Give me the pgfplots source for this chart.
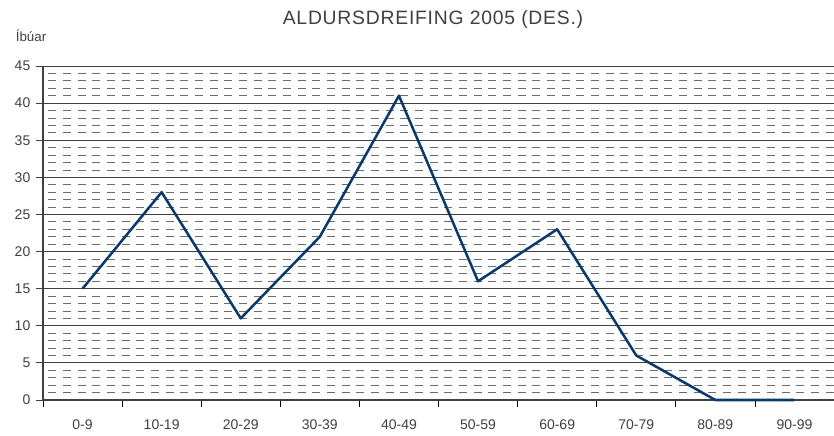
\documentclass[border=0pt]{standalone}
\usepackage{pgfplots}
\pgfplotsset{compat=1.18}
\usepackage{fontspec}
\setmainfont{Liberation Sans}
\definecolor{navy}{HTML}{0B3A6A}
\definecolor{txt}{HTML}{404040}
\begin{document}
\begin{tikzpicture}
\useasboundingbox (-32.25pt,-26.25pt) rectangle (593.25pt,300pt);
\begin{axis}[
  at={(0,0)}, anchor=south west,
  scale only axis, width=593.25pt, height=250.5pt,
  xmin=0, xmax=10, ymin=0, ymax=45,
  axis x line*=bottom, axis y line*=left,
  axis line style={draw=txt, line width=0.8pt},
  xtick={0,1,...,10}, xticklabels={},
  extra x ticks={0.5,1.5,...,9.5},
  extra x tick labels={0-9,10-19,20-29,30-39,40-49,50-59,60-69,70-79,80-89,90-99},
  extra x tick style={major tick length=0pt, xticklabel style={yshift=-11pt}},
  x tick style={draw=black, line width=0.6pt},
  xtick align=outside, ytick align=outside,
  major tick length=5pt,
  ytick={0,5,...,45},
  minor y tick num=4,
  y tick style={draw=txt, line width=0.6pt},
  minor y tick style={draw=none},
  ymajorgrids, yminorgrids,
  major grid style={draw=txt, line width=0.6pt},
  minor grid style={draw=gray!85!black, line width=0.6pt, dash pattern=on 6pt off 5pt, dash phase=-4pt},
  tick label style={font=\fontsize{10.5}{12}\selectfont, text=txt},
  yticklabel style={xshift=-1pt},
  /pgf/number format/assume math mode=true,
  clip=false,
]
\addplot[navy, line width=1.9pt, line join=round] coordinates {
  (0.5,15) (1.5,28) (2.5,11) (3.5,22) (4.5,41) (5.5,16) (6.5,23) (7.5,6) (8.5,0) (9.5,0)
};
\end{axis}
\node[text=txt, font=\fontsize{14.5}{16}\selectfont] at (292.5pt,285pt) {\addfontfeatures{LetterSpace=4}ALDURSDREIFING 2005 (DES.)};
\node[text=txt, font=\fontsize{10}{12}\selectfont] at (-9pt,273pt) {Íbúar};
\end{tikzpicture}
\end{document}
